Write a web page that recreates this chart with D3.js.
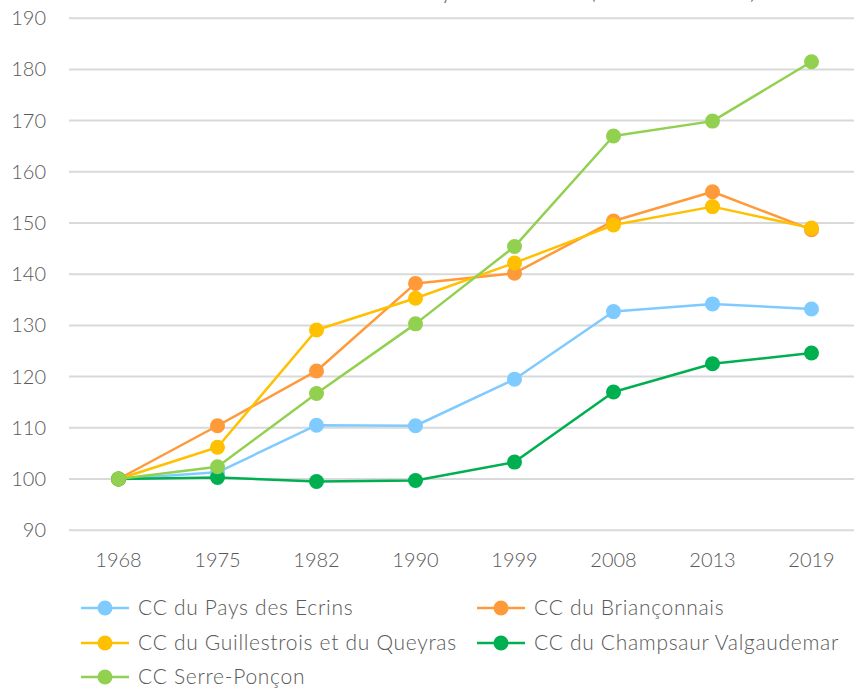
<!DOCTYPE html>
<html>
<head>
<meta charset="utf-8">
<script src="https://cdn.jsdelivr.net/npm/d3@7"></script>
<style>
  body { margin: 0; background: #fff; }
  svg { display: block; font-family: Lato, "Open Sans", sans-serif; font-weight: 300; }
</style>
</head>
<body>
<svg id="chart" width="854" height="688"></svg>
<script>
const years = ["1968", "1975", "1982", "1990", "1999", "2008", "2013", "2019"];
const yTicks = [90, 100, 110, 120, 130, 140, 150, 160, 170, 180, 190];

const ecrins = [100, 101.3, 110.5, 110.4, 119.5, 132.7, 134.2, 133.2];
const brianconnais = [100, 110.4, 121.1, 138.2, 140.2, 150.4, 156.1, 148.7];
const guillestrois = [100, 106.2, 129.1, 135.3, 142.2, 149.6, 153.2, 149.0];
const champsaur = [100, 100.3, 99.5, 99.7, 103.3, 117.0, 122.5, 124.6];
const serrePoncon = [100, 102.4, 116.7, 130.3, 145.4, 167.0, 169.9, 181.5];

const seriesNames = ["CC du Pays des Ecrins", "CC du Briançonnais", "CC du Guillestrois et du Queyras",
  "CC du Champsaur Valgaudemar", "CC Serre-Ponçon"];
const seriesValues = [ecrins, brianconnais, guillestrois, champsaur, serrePoncon];
const seriesColors = ["#7FCBFF", "#FF9A3A", "#FFC000", "#00B050", "#92D050"];

const svg = d3.select("#chart");

// x goes past the right edge, like the cropped original
const x = d3.scaleBand().domain(years).range([69, 861]);
const y = d3.scaleLinear().domain([90, 190]).range([530.2, 18.2]);

// title, cut off at the top: only the descenders show
svg.append("text")
  .attr("x", 452).attr("y", -1)
  .attr("text-anchor", "end")
  .attr("fill", "#595959")
  .style("font-size", "22px")
  .text("Evolution du nombre d'habitants : analy");
svg.append("text")
  .attr("x", 452).attr("y", -1)
  .attr("fill", "#595959")
  .style("font-size", "22px")
  .text("se territoriale");
svg.append("text")
  .attr("x", 590).attr("y", -1)
  .attr("fill", "#595959")
  .attr("textLength", 166)
  .style("font-size", "22px")
  .text("(base 100 en 1968)");

// gridlines + y labels
svg.append("g")
  .selectAll("line")
  .data(yTicks)
  .enter().append("line")
  .attr("x1", 69).attr("x2", 861)
  .attr("y1", d => y(d)).attr("y2", d => y(d))
  .attr("stroke", "#D9D9D9")
  .attr("stroke-width", 2);

svg.append("g")
  .selectAll("text")
  .data(yTicks)
  .enter().append("text")
  .attr("x", 46)
  .attr("y", d => y(d))
  .attr("dy", "0.35em")
  .attr("text-anchor", "end")
  .attr("fill", "#595959")
  .style("font-size", "20px")
  .text(d => d);

svg.append("g")
  .selectAll("text")
  .data(years)
  .enter().append("text")
  .attr("x", d => x(d) + x.bandwidth() / 2)
  .attr("y", 567)
  .attr("text-anchor", "middle")
  .attr("fill", "#595959")
  .style("font-size", "20px")
  .text(d => d);

// lines and markers
const line = d3.line()
  .x((d, i) => x(years[i]) + x.bandwidth() / 2)
  .y(d => y(d));

seriesValues.forEach((vals, k) => {
  const g = svg.append("g");
  g.append("path")
    .attr("d", line(vals))
    .attr("fill", "none")
    .attr("stroke", seriesColors[k])
    .attr("stroke-width", 2.5)
    .attr("stroke-linejoin", "round");
  g.selectAll("circle")
    .data(vals)
    .enter().append("circle")
    .attr("cx", (d, i) => x(years[i]) + x.bandwidth() / 2)
    .attr("cy", d => y(d))
    .attr("r", 7.5)
    .attr("fill", seriesColors[k]);
});

// legend
const legendPos = [[81, 608], [477, 608], [81, 643], [477, 643], [81, 677]];
const legend = svg.append("g")
  .selectAll("g")
  .data(seriesNames)
  .enter().append("g")
  .attr("transform", (d, i) => `translate(${legendPos[i][0]},${legendPos[i][1]})`);

legend.append("line")
  .attr("x1", 0).attr("x2", 48)
  .attr("stroke", (d, i) => seriesColors[i])
  .attr("stroke-width", 2.5);
legend.append("circle")
  .attr("cx", 24).attr("r", 7.5)
  .attr("fill", (d, i) => seriesColors[i]);
legend.append("text")
  .attr("x", 57)
  .attr("dy", "0.35em")
  .attr("fill", "#595959")
  .style("font-size", "21px")
  .style("letter-spacing", "0.7px")
  .text(d => d);
</script>
</body>
</html>
